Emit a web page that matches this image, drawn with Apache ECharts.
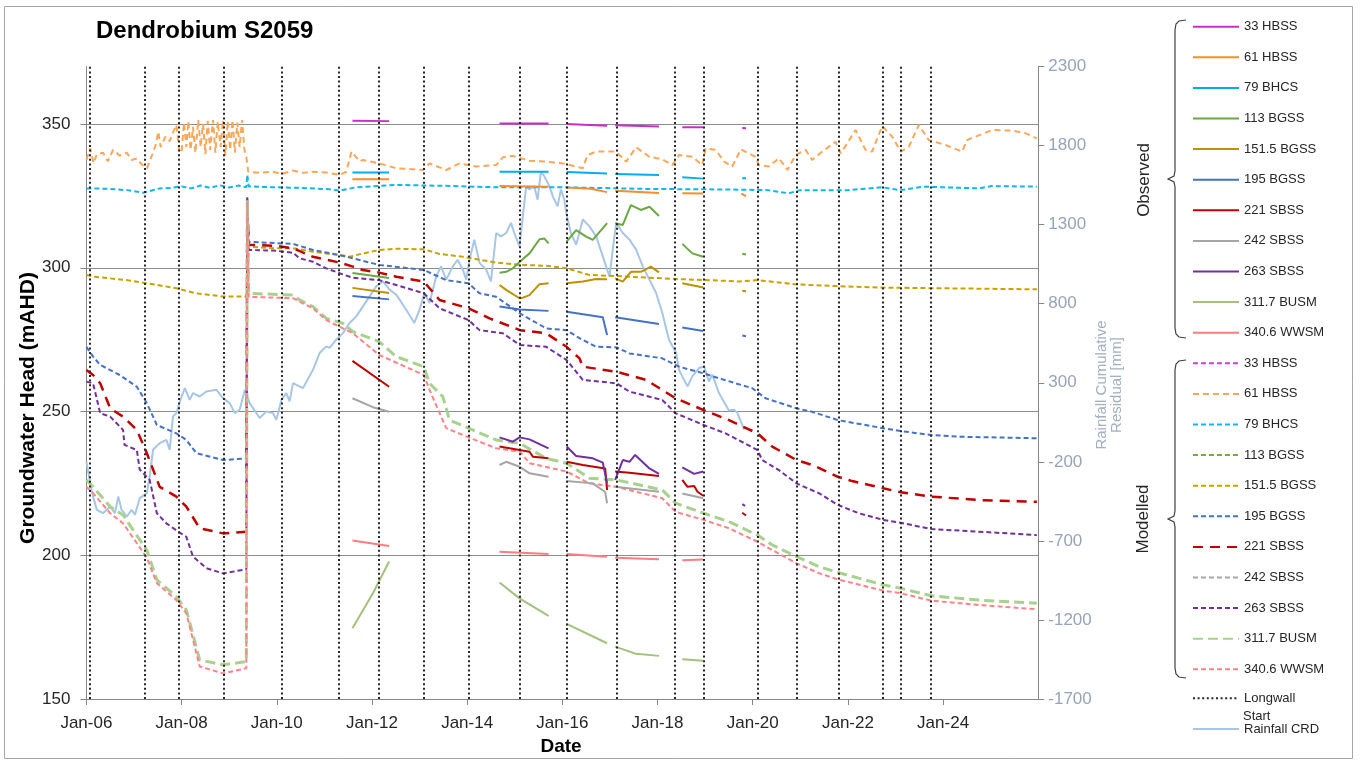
<!DOCTYPE html>
<html>
<head>
<meta charset="utf-8">
<title>Dendrobium S2059</title>
<script src="https://cdn.jsdelivr.net/npm/echarts@6.0.0/dist/echarts.min.js"></script>
<style>
  html, body { margin: 0; padding: 0; background: #ffffff; }
  #chart { width: 1362px; height: 760px; }
</style>
</head>
<body>
<div id="chart"></div>
<script>
// ---- Data (x = decimal year, y = groundwater head in mAHD) ----

// Longwall start dates (decimal year)
const longwallStarts = [2006.08, 2007.23, 2007.94, 2008.89, 2010.10, 2011.31, 2012.15, 2013.09,
  2014.03, 2015.11, 2016.09, 2017.14, 2018.37, 2018.97, 2020.10, 2020.92, 2021.80, 2022.74,
  2023.11, 2023.75];

// Observed heads, one array of segments per bore (gaps between monitoring periods)
const obs33HBSS = [
  [[2011.59, 351.1], [2012.36, 351.0]],
  [[2014.68, 350.2], [2015.71, 350.2]],
  [[2016.09, 350.0], [2016.94, 349.4]],
  [[2017.11, 349.6], [2018.03, 349.1]],
  [[2018.52, 348.9], [2018.96, 348.9]],
  [[2019.78, 348.6], [2019.86, 348.5]]
];
const obs61HBSS = [
  [[2011.59, 330.8], [2012.36, 330.8]],
  [[2014.68, 328.4], [2015.71, 328.2]],
  [[2016.09, 327.9], [2016.60, 327.5], [2016.94, 326.3]],
  [[2017.11, 326.8], [2018.03, 326.0]],
  [[2018.52, 325.9], [2018.96, 325.8]],
  [[2019.76, 325.8], [2019.86, 324.9]]
];
const obs79BHCS = [
  [[2011.59, 333.1], [2012.36, 333.1]],
  [[2014.68, 333.4], [2015.71, 333.4]],
  [[2016.09, 333.3], [2016.94, 332.8]],
  [[2017.11, 332.6], [2018.03, 332.3]],
  [[2018.52, 331.5], [2018.96, 331.0]],
  [[2019.78, 331.1], [2019.86, 331.1]]
];
const obs113BGSS = [
  [[2011.59, 298.2], [2012.36, 296.4]],
  [[2014.68, 298.3], [2014.82, 298.6], [2014.96, 299.8], [2015.10, 302.0], [2015.31, 305.0],
   [2015.52, 309.9], [2015.62, 310.2], [2015.71, 308.5]],
  [[2016.09, 309.1], [2016.29, 313.1], [2016.50, 310.8], [2016.64, 309.7], [2016.94, 315.5]],
  [[2017.11, 315.5], [2017.27, 314.9], [2017.44, 321.8], [2017.65, 320.1], [2017.83, 321.2],
   [2018.03, 318.0]],
  [[2018.52, 308.3], [2018.73, 305.0], [2018.96, 303.8]],
  [[2019.78, 304.9], [2019.86, 304.6]]
];
const obs151BGSS = [
  [[2011.59, 293.0], [2012.36, 291.2]],
  [[2014.68, 294.0], [2014.82, 292.3], [2015.10, 289.4], [2015.17, 289.6], [2015.31, 290.5],
   [2015.52, 294.3], [2015.71, 294.6]],
  [[2016.09, 294.6], [2016.43, 295.2], [2016.71, 296.1], [2016.94, 296.0]],
  [[2017.11, 296.3], [2017.27, 295.2], [2017.44, 298.6], [2017.65, 298.6], [2017.86, 300.4],
   [2018.03, 298.4]],
  [[2018.52, 294.6], [2018.96, 293.1]],
  [[2019.78, 292.0], [2019.86, 291.8]]
];
const obs195BGSS = [
  [[2011.59, 290.2], [2012.36, 289.0]],
  [[2014.68, 286.5], [2015.10, 285.5], [2015.71, 285.0]],
  [[2016.09, 284.7], [2016.85, 282.8], [2016.94, 276.6]],
  [[2017.11, 282.8], [2018.03, 280.4]],
  [[2018.52, 279.2], [2018.96, 278.0]],
  [[2019.78, 276.4], [2019.86, 276.2]]
];
const obs221SBSS = [
  [[2011.59, 267.6], [2012.36, 258.6]],
  [[2014.68, 237.8], [2015.10, 236.6], [2015.31, 236.0], [2015.38, 234.3], [2015.71, 233.7]],
  [[2016.09, 232.5], [2016.43, 231.4], [2016.90, 230.2], [2016.94, 222.7]],
  [[2017.11, 229.1], [2017.41, 228.7], [2018.03, 227.6]],
  [[2018.52, 226.2], [2018.63, 223.8], [2018.77, 224.1], [2018.84, 222.1], [2018.96, 220.7]],
  [[2019.78, 214.8], [2019.86, 213.8]]
];
const obs242SBSS = [
  [[2011.59, 254.6], [2012.02, 251.5], [2012.36, 249.9]],
  [[2014.68, 231.4], [2014.82, 232.5], [2015.10, 230.8], [2015.31, 228.5], [2015.71, 227.3]],
  [[2016.09, 225.8], [2016.64, 225.0], [2016.90, 222.0], [2016.94, 218.1]],
  [[2017.11, 223.8], [2018.03, 222.1]],
  [[2018.52, 221.5], [2018.96, 219.8]]
];
const obs263SBSS = [
  [[2014.68, 241.0], [2014.96, 239.5], [2015.10, 241.0], [2015.31, 240.3], [2015.71, 237.2]],
  [[2016.09, 237.8], [2016.29, 234.5], [2016.64, 233.7], [2016.85, 232.2], [2016.94, 225.0]],
  [[2017.11, 226.2], [2017.27, 233.1], [2017.41, 232.5], [2017.53, 234.9], [2017.83, 230.2],
   [2018.03, 228.3]],
  [[2018.52, 230.6], [2018.77, 228.3], [2018.96, 229.1]],
  [[2019.78, 217.8], [2019.84, 217.2]]
];
const obs311BUSM = [
  [[2011.59, 174.6], [2012.02, 186.8], [2012.36, 197.8]],
  [[2014.68, 190.5], [2015.10, 185.0], [2015.71, 178.9]],
  [[2016.09, 176.1], [2016.94, 169.4]],
  [[2017.11, 168.2], [2017.55, 165.7], [2018.03, 165.0]],
  [[2018.52, 163.8], [2018.96, 163.3]]
];
const obs340WWSM = [
  [[2011.59, 205.1], [2012.36, 203.2]],
  [[2014.68, 201.2], [2015.71, 200.4]],
  [[2016.09, 200.4], [2016.94, 199.5]],
  [[2017.11, 199.1], [2018.03, 198.6]],
  [[2018.52, 198.3], [2018.96, 198.5]]
];

// Modelled heads
const mod33HBSS = [];
const mod61HBSS = [
  [2006.00, 337.5], [2006.08, 341.5], [2006.15, 336.4], [2006.22, 339.5], [2006.35, 340.0],
  [2006.45, 337.0], [2006.56, 341.0], [2006.70, 339.0], [2006.85, 340.0], [2006.95, 337.5],
  [2007.06, 338.0], [2007.16, 336.0], [2007.27, 334.6], [2007.35, 338.0], [2007.40, 340.0],
  [2007.46, 343.0], [2007.51, 347.3], [2007.56, 342.0], [2007.66, 345.6], [2007.75, 344.0],
  [2007.82, 347.0], [2007.89, 349.7], [2007.95, 341.0], [2008.00, 340.0], [2008.05, 350.5],
  [2008.10, 342.0], [2008.14, 351.0], [2008.19, 341.0], [2008.24, 349.0], [2008.29, 340.0],
  [2008.35, 351.4], [2008.40, 342.0], [2008.45, 350.0], [2008.50, 339.5], [2008.55, 351.0],
  [2008.60, 341.0], [2008.66, 351.4], [2008.71, 340.0], [2008.76, 350.8], [2008.82, 342.0],
  [2008.87, 351.4], [2008.92, 339.0], [2008.97, 351.0], [2009.02, 341.0], [2009.07, 351.4],
  [2009.12, 340.0], [2009.17, 350.5], [2009.22, 342.0], [2009.27, 351.4], [2009.32, 341.0],
  [2009.36, 338.6], [2009.40, 333.4], [2009.64, 333.0], [2009.92, 333.4], [2010.10, 332.6],
  [2010.34, 333.8], [2010.55, 333.0], [2010.76, 333.4], [2011.04, 333.1], [2011.32, 332.3],
  [2011.46, 333.4], [2011.57, 340.4], [2011.74, 337.0], [2011.81, 337.5], [2012.15, 336.3],
  [2012.51, 334.6], [2013.07, 334.0], [2013.21, 336.3], [2013.56, 334.0], [2013.84, 336.3],
  [2014.19, 335.2], [2014.61, 335.7], [2014.75, 338.4], [2014.96, 338.9], [2015.31, 337.2],
  [2015.66, 336.9], [2016.01, 336.3], [2016.43, 334.6], [2016.53, 339.2], [2016.71, 340.4],
  [2017.13, 340.4], [2017.34, 336.9], [2017.55, 341.9], [2017.83, 338.6], [2018.10, 337.7],
  [2018.31, 335.7], [2018.45, 339.2], [2018.73, 338.6], [2018.94, 335.7], [2019.01, 341.5],
  [2019.22, 341.0], [2019.40, 336.9], [2019.57, 335.2], [2019.75, 341.2], [2020.06, 338.6],
  [2020.13, 335.7], [2020.34, 335.2], [2020.55, 338.1], [2020.73, 334.0], [2020.90, 339.2],
  [2021.11, 341.0], [2021.25, 337.5], [2021.46, 340.4], [2021.74, 343.8], [2021.85, 339.8],
  [2022.16, 347.9], [2022.37, 341.0], [2022.51, 340.4], [2022.72, 349.3], [2022.93, 345.6],
  [2023.11, 340.4], [2023.28, 342.1], [2023.49, 349.7], [2023.70, 344.4], [2024.05, 342.7],
  [2024.40, 340.4], [2024.50, 344.4], [2025.03, 347.9], [2025.45, 347.7], [2025.73, 346.8],
  [2025.97, 345.0]
];
const mod79BHCS = [
  [2006.00, 327.6], [2006.40, 327.5], [2006.85, 327.0], [2007.19, 326.1], [2007.54, 327.6],
  [2007.80, 327.8], [2008.00, 328.3], [2008.20, 327.6], [2008.40, 328.6], [2008.60, 327.8],
  [2008.80, 328.7], [2009.00, 327.9], [2009.20, 328.6], [2009.36, 328.0], [2009.38, 332.3],
  [2009.41, 328.3], [2009.90, 328.0], [2010.50, 327.8], [2011.11, 327.3], [2011.32, 326.8],
  [2011.67, 328.0], [2012.51, 328.8], [2013.50, 328.5], [2014.60, 328.0], [2016.00, 328.0],
  [2017.83, 327.4], [2018.94, 327.3], [2019.50, 327.2], [2020.30, 327.0], [2020.76, 325.9],
  [2021.00, 327.0], [2022.00, 327.0], [2022.72, 328.0], [2023.10, 327.0], [2023.60, 328.2],
  [2024.75, 327.6], [2025.03, 328.4], [2025.97, 328.2]
];
const mod113BGSS = [];
const mod151BGSS = [
  [2006.00, 297.5], [2006.15, 296.9], [2006.85, 295.7], [2007.19, 294.8], [2007.89, 292.9],
  [2008.31, 291.1], [2008.87, 290.0], [2009.36, 290.0], [2009.41, 307.3], [2009.92, 306.8],
  [2010.34, 306.8], [2010.76, 305.6], [2011.11, 304.8], [2011.32, 304.5], [2011.53, 303.8],
  [2011.81, 305.0], [2012.17, 306.2], [2012.51, 306.6], [2013.09, 306.4], [2013.42, 304.8],
  [2013.91, 303.8], [2014.61, 301.8], [2015.11, 301.0], [2015.66, 300.7], [2016.09, 299.8],
  [2016.57, 297.5], [2017.14, 297.1], [2018.38, 296.1], [2019.50, 295.4], [2019.71, 295.2],
  [2020.10, 295.7], [2020.92, 294.2], [2021.80, 293.6], [2022.74, 293.1], [2023.75, 292.9],
  [2025.97, 292.5]
];
const mod195BGSS = [
  [2006.00, 272.5], [2006.14, 269.1], [2006.29, 266.2], [2006.70, 262.7], [2007.06, 258.6],
  [2007.27, 252.9], [2007.48, 245.3], [2007.89, 242.4], [2008.10, 240.1], [2008.31, 235.5],
  [2008.87, 233.1], [2009.36, 233.7], [2009.38, 324.5], [2009.41, 309.0], [2010.34, 308.3],
  [2010.76, 306.2], [2011.32, 304.4], [2011.74, 302.7], [2012.15, 301.0], [2013.09, 299.2],
  [2013.56, 295.7], [2014.03, 294.6], [2014.26, 291.1], [2014.61, 289.9], [2015.11, 284.1],
  [2015.66, 278.9], [2016.09, 278.3], [2016.36, 275.5], [2016.71, 272.5], [2017.14, 272.3],
  [2017.41, 270.2], [2018.10, 268.5], [2018.45, 265.6], [2018.96, 263.3], [2019.36, 261.2],
  [2019.99, 258.1], [2020.27, 254.6], [2020.92, 251.1], [2021.25, 249.9], [2021.79, 247.0],
  [2022.74, 244.2], [2023.11, 243.2], [2023.75, 241.8], [2024.40, 241.2], [2025.97, 240.7]
];
const mod221SBSS = [
  [2006.00, 264.4], [2006.14, 262.7], [2006.29, 259.8], [2006.50, 251.1], [2006.77, 248.2],
  [2007.06, 243.6], [2007.27, 235.5], [2007.54, 223.8], [2007.89, 220.4], [2008.10, 216.9],
  [2008.38, 209.4], [2008.87, 207.6], [2009.36, 208.2], [2009.38, 322.0], [2009.41, 308.0],
  [2009.99, 307.6], [2010.34, 306.8], [2010.76, 303.8], [2011.32, 301.8], [2011.60, 300.4],
  [2011.81, 299.2], [2012.15, 298.3], [2012.51, 296.9], [2013.09, 295.2], [2013.42, 288.8],
  [2014.03, 285.9], [2014.47, 282.4], [2015.11, 278.3], [2015.66, 277.2], [2016.09, 272.5],
  [2016.36, 268.5], [2016.43, 265.6], [2017.14, 263.8], [2017.76, 261.0], [2018.38, 254.6],
  [2018.97, 250.5], [2019.50, 247.0], [2020.10, 242.4], [2020.41, 237.8], [2020.92, 233.1],
  [2021.25, 231.4], [2021.79, 227.3], [2022.09, 225.8], [2022.74, 223.3], [2023.11, 221.9],
  [2023.75, 220.4], [2024.75, 219.2], [2025.97, 218.6]
];
const mod242SBSS = [];
const mod263SBSS = [
  [2006.00, 260.4], [2006.14, 259.8], [2006.29, 249.4], [2006.50, 248.2], [2006.77, 243.6],
  [2006.80, 238.4], [2007.06, 236.6], [2007.12, 229.8], [2007.33, 226.2], [2007.48, 214.6],
  [2007.68, 211.1], [2007.93, 208.2], [2008.10, 206.4], [2008.24, 199.5], [2008.52, 195.5],
  [2008.87, 193.7], [2009.36, 195.1], [2009.38, 324.5], [2009.41, 306.2], [2009.99, 305.9],
  [2010.34, 305.2], [2010.48, 303.3], [2010.76, 302.1], [2011.04, 299.8], [2011.32, 298.1],
  [2011.60, 296.5], [2012.15, 295.7], [2012.51, 294.0], [2013.09, 291.1], [2013.42, 285.9],
  [2014.03, 281.8], [2014.26, 278.3], [2014.75, 277.2], [2015.11, 273.1], [2015.66, 272.5],
  [2016.09, 267.9], [2016.43, 261.0], [2017.14, 259.8], [2017.41, 256.9], [2018.10, 254.0],
  [2018.38, 249.4], [2018.97, 245.3], [2019.43, 242.4], [2020.10, 236.6], [2020.20, 233.1],
  [2020.55, 229.6], [2020.92, 225.0], [2021.40, 221.5], [2021.79, 217.5], [2022.23, 214.6],
  [2022.74, 212.3], [2023.11, 211.3], [2023.75, 209.1], [2024.75, 208.2], [2025.97, 207.0]
];
const mod311BUSM = [
  [2006.00, 226.2], [2006.14, 223.8], [2006.50, 216.9], [2006.77, 214.0], [2006.98, 208.8],
  [2007.27, 201.8], [2007.48, 191.4], [2007.89, 185.6], [2008.10, 181.0], [2008.38, 163.6],
  [2008.87, 161.9], [2009.36, 163.0], [2009.38, 323.5], [2009.41, 291.1], [2010.34, 290.5],
  [2010.48, 288.8], [2010.76, 286.5], [2011.04, 282.4], [2011.39, 280.7], [2011.60, 277.8],
  [2012.15, 274.3], [2012.51, 269.1], [2013.09, 265.6], [2013.21, 259.8], [2013.49, 255.1],
  [2013.63, 247.0], [2014.03, 244.2], [2014.61, 240.1], [2015.11, 238.9], [2015.66, 233.7],
  [2016.09, 232.0], [2016.57, 226.8], [2017.14, 226.2], [2018.10, 222.7], [2018.38, 218.1],
  [2018.97, 214.6], [2019.50, 211.7], [2020.10, 207.0], [2020.41, 203.6], [2020.92, 199.5],
  [2021.40, 196.0], [2021.79, 194.0], [2022.74, 189.7], [2023.11, 188.5], [2023.75, 185.9],
  [2024.75, 184.4], [2025.97, 183.3]
];
const mod340WWSM = [
  [2006.00, 223.8], [2006.14, 221.6], [2006.50, 214.6], [2006.77, 211.1], [2007.06, 204.2],
  [2007.27, 199.1], [2007.48, 190.3], [2007.89, 184.4], [2008.10, 179.8], [2008.38, 161.3],
  [2008.87, 158.9], [2009.36, 160.7], [2009.38, 323.0], [2009.41, 289.9], [2010.34, 289.4],
  [2010.76, 285.9], [2011.04, 281.8], [2011.60, 277.2], [2012.15, 269.7], [2013.09, 262.7],
  [2013.21, 257.5], [2013.56, 244.2], [2014.03, 241.0], [2014.61, 237.2], [2015.11, 236.0],
  [2015.31, 232.0], [2016.09, 229.1], [2016.57, 225.0], [2017.14, 223.8], [2018.10, 219.8],
  [2018.38, 215.1], [2018.97, 212.3], [2019.50, 209.4], [2020.10, 204.7], [2020.41, 201.8],
  [2020.92, 197.2], [2021.40, 193.7], [2021.79, 191.6], [2022.74, 187.7], [2023.11, 186.8],
  [2023.75, 184.2], [2024.75, 182.7], [2025.97, 181.2]
];

// Rainfall cumulative residual (mm), right axis
const rainfallCRD = [
  [2006.00, -198], [2006.08, -335], [2006.14, -420], [2006.22, -504], [2006.35, -525],
  [2006.50, -483], [2006.60, -525], [2006.67, -420], [2006.74, -504], [2006.85, -546],
  [2006.95, -504], [2007.02, -535], [2007.12, -430], [2007.27, -398], [2007.33, -293],
  [2007.40, -124], [2007.54, -82], [2007.68, -61], [2007.75, -124], [2007.82, 87],
  [2007.89, 108], [2008.00, 213], [2008.07, 266], [2008.17, 192], [2008.24, 235],
  [2008.38, 213], [2008.52, 245], [2008.73, 256], [2008.87, 203], [2009.01, 171],
  [2009.12, 108], [2009.22, 129], [2009.33, 256], [2009.43, 171], [2009.64, 77],
  [2009.78, 118], [2009.92, 108], [2009.99, 66], [2010.10, 192], [2010.20, 235],
  [2010.27, 182], [2010.34, 298], [2010.55, 266], [2010.76, 382], [2010.90, 488],
  [2011.04, 530], [2011.11, 520], [2011.25, 572], [2011.39, 614], [2011.53, 678],
  [2011.67, 720], [2011.81, 783], [2011.95, 846], [2012.09, 910], [2012.23, 941],
  [2012.37, 889], [2012.51, 857], [2012.72, 762], [2012.89, 678], [2013.00, 762],
  [2013.10, 868], [2013.21, 804], [2013.35, 973], [2013.45, 1036], [2013.56, 952],
  [2013.70, 1036], [2013.80, 1078], [2013.91, 1015], [2013.98, 952], [2014.05, 1078],
  [2014.15, 1205], [2014.26, 1058], [2014.40, 1015], [2014.50, 941], [2014.61, 1247],
  [2014.71, 1226], [2014.82, 1247], [2014.92, 1311], [2014.99, 1247], [2015.10, 1163],
  [2015.17, 1353], [2015.24, 1542], [2015.31, 1522], [2015.41, 1542], [2015.48, 1458],
  [2015.55, 1637], [2015.62, 1606], [2015.73, 1542], [2015.80, 1479], [2015.90, 1416],
  [2015.97, 1522], [2016.04, 1458], [2016.09, 1363], [2016.18, 1247], [2016.29, 1173],
  [2016.43, 1332], [2016.57, 1289], [2016.71, 1226], [2016.85, 1099], [2016.99, 973],
  [2017.13, 1311], [2017.27, 1247], [2017.41, 1205], [2017.55, 1142], [2017.69, 1036],
  [2017.83, 952], [2017.97, 868], [2018.10, 741], [2018.24, 572], [2018.39, 488],
  [2018.45, 382], [2018.52, 340], [2018.63, 277], [2018.73, 340], [2018.87, 393],
  [2018.98, 403], [2019.08, 308], [2019.15, 351], [2019.29, 235], [2019.50, 125],
  [2019.61, 129], [2019.68, 108], [2019.82, 3]
];

const boreNames = ['33 HBSS', '61 HBSS', '79 BHCS', '113 BGSS', '151.5 BGSS', '195 BGSS',
  '221 SBSS', '242 SBSS', '263 SBSS', '311.7 BUSM', '340.6 WWSM'];
const boreColours = ['#cc2ccc', '#f68d2e', '#00aeef', '#6aa842', '#bf9000', '#4472c4',
  '#c00000', '#a5a5a5', '#7030a0', '#a3c17c', '#ff7c80'];
const modelColours = ['#d23fd2', '#fba75a', '#14b4f0', '#72ad47', '#c9a200', '#4472c4',
  '#c00000', '#a5a5a5', '#7030a0', '#a9d18e', '#ff8389'];

const observedSets = [obs33HBSS, obs61HBSS, obs79BHCS, obs113BGSS, obs151BGSS, obs195BGSS,
  obs221SBSS, obs242SBSS, obs263SBSS, obs311BUSM, obs340WWSM];
const modelledSets = [mod33HBSS, mod61HBSS, mod79BHCS, mod113BGSS, mod151BGSS, mod195BGSS,
  mod221SBSS, mod242SBSS, mod263SBSS, mod311BUSM, mod340WWSM];

// ---- Chart build ----
const FONT = '"Liberation Sans", Arial, sans-serif';
const MOD_SUFFIX = ' modelled';

// join monitoring periods with an empty point so the line breaks between them
function joinSegments(segs) {
  const out = [];
  segs.forEach((seg, i) => {
    if (i > 0) {
      const prev = segs[i - 1];
      out.push([(prev[prev.length - 1][0] + seg[0][0]) / 2, null]);
    }
    seg.forEach(p => out.push(p));
  });
  return out;
}

function dashFor(i) {
  if (boreNames[i] === '221 SBSS') return { type: [10, 7], width: 2.5 };
  if (boreNames[i] === '311.7 BUSM') return { type: [10, 5], width: 3 };
  if (boreNames[i] === '61 HBSS') return { type: [6, 4], width: 2 };
  return { type: [5, 3], width: 2 };
}

const series = [];

series.push({
  name: 'Rainfall CRD',
  type: 'line',
  yAxisIndex: 1,
  data: rainfallCRD,
  symbol: 'none',
  color: '#a7c6e6',
  lineStyle: { width: 2, color: '#a7c6e6' },
  z: 1
});

modelledSets.forEach((d, i) => {
  const ds = dashFor(i);
  series.push({
    name: boreNames[i] + MOD_SUFFIX,
    type: 'line',
    data: d,
    symbol: 'none',
    color: modelColours[i],
    lineStyle: { width: ds.width, type: ds.type, color: modelColours[i] },
    z: 2
  });
});

observedSets.forEach((segs, i) => {
  series.push({
    name: boreNames[i],
    type: 'line',
    data: joinSegments(segs),
    symbol: 'none',
    connectNulls: false,
    color: boreColours[i],
    lineStyle: { width: 2, color: boreColours[i] },
    z: 3
  });
});

series.push({
  name: 'Longwall Start',
  type: 'line',
  data: [],
  symbol: 'none',
  color: '#262626',
  lineStyle: { width: 2, type: [2, 2.6], color: '#262626' },
  markLine: {
    silent: true,
    symbol: ['none', 'none'],
    label: { show: false },
    lineStyle: { width: 2, type: [2, 2.6], color: '#262626' },
    data: longwallStarts.map(v => ({ xAxis: v }))
  },
  z: 4
});

const legendBase = {
  orient: 'vertical',
  left: 1192,
  itemWidth: 46,
  itemHeight: 16,
  itemGap: 14.6,
  padding: 0,
  selectedMode: false,
  itemStyle: { opacity: 0 },
  textStyle: { fontFamily: FONT, fontSize: 13, color: '#262626', lineHeight: 16 }
};

function brace(x, y0, y1) {
  const ym = (y0 + y1) / 2;
  return {
    type: 'polyline',
    silent: true,
    shape: {
      points: [[x + 11, y0], [x + 4, y0 + 1], [x + 1, y0 + 4], [x, y0 + 10], [x, ym - 8],
        [x - 1, ym - 3], [x - 7, ym], [x - 1, ym + 3], [x, ym + 8], [x, y1 - 10],
        [x + 1, y1 - 4], [x + 4, y1 - 1], [x + 11, y1]]
    },
    style: { stroke: '#404040', lineWidth: 1.2, fill: null }
  };
}

function vText(text, x, y, font, colour) {
  return {
    type: 'text',
    x: x,
    y: y,
    rotation: Math.PI / 2,
    silent: true,
    style: { text: text, font: font, fill: colour, textAlign: 'center', textVerticalAlign: 'middle' }
  };
}

const option = {
  animation: false,
  backgroundColor: '#ffffff',
  title: {
    text: 'Dendrobium S2059',
    left: 96,
    top: 19,
    padding: 0,
    textStyle: { fontFamily: FONT, fontSize: 24, fontWeight: 'bold', color: '#000000', lineHeight: 24 }
  },
  grid: { left: 86.4, right: 323.7, top: 66.5, bottom: 61 },
  xAxis: {
    type: 'value',
    min: 2006,
    max: 2026,
    interval: 2,
    axisLine: { onZero: false, lineStyle: { color: '#868686', width: 1 } },
    axisTick: { show: true, length: 6, lineStyle: { color: '#868686' } },
    axisLabel: {
      fontFamily: FONT, fontSize: 17, color: '#262626', margin: 16, showMaxLabel: false,
      formatter: v => 'Jan-' + String(Math.round(v)).slice(2)
    },
    splitLine: { show: false }
  },
  yAxis: [
    {
      type: 'value',
      min: 150,
      max: 370,
      interval: 50,
      axisLine: { show: true, onZero: false, lineStyle: { color: '#868686' } },
      axisTick: { show: true, length: 6, lineStyle: { color: '#868686' } },
      axisLabel: { fontFamily: FONT, fontSize: 17, color: '#262626', margin: 16, showMaxLabel: false },
      splitLine: { show: true, showMinLine: false, showMaxLine: false, lineStyle: { color: '#8c8c8c', width: 1 } }
    },
    {
      type: 'value',
      position: 'right',
      min: -1700,
      max: 2300,
      interval: 500,
      axisLine: { show: true, onZero: false, lineStyle: { color: '#868686' } },
      axisTick: { show: true, length: 6, lineStyle: { color: '#868686' } },
      axisLabel: { fontFamily: FONT, fontSize: 17, color: '#97a3b7', margin: 10, formatter: v => String(v) },
      splitLine: { show: false }
    }
  ],
  legend: [
    Object.assign({}, legendBase, { top: 18.7, data: boreNames.slice() }),
    Object.assign({}, legendBase, {
      top: 355.3,
      data: boreNames.map(n => n + MOD_SUFFIX),
      formatter: n => n.replace(MOD_SUFFIX, '')
    }),
    Object.assign({}, legendBase, {
      top: 690.3,
      data: ['Longwall Start'],
      formatter: () => 'Longwall'
    }),
    Object.assign({}, legendBase, { top: 721, data: ['Rainfall CRD'] })
  ],
  graphic: [
    {
      type: 'rect', silent: true, z: -10,
      shape: { x: 4.5, y: 6.5, width: 1348, height: 752 },
      style: { fill: null, stroke: '#a6a6a6', lineWidth: 1 }
    },
    brace(1175, 20, 338),
    brace(1175, 360, 678),
    vText('Observed', 1144, 180, '17px ' + FONT, '#262626'),
    vText('Modelled', 1143, 519, '17px ' + FONT, '#262626'),
    vText('Groundwater Head (mAHD)', 28, 408, 'bold 21px ' + FONT, '#000000'),
    vText('Rainfall Cumulative\nResidual [mm]', 1109, 385, '15px ' + FONT, '#a3afc2'),
    {
      // second line of the longwall legend entry
      type: 'text', x: 1243, y: 716, silent: true,
      style: { text: 'Start', font: '13px ' + FONT, fill: '#262626', textAlign: 'left', textVerticalAlign: 'middle' }
    },
    {
      type: 'text', x: 561, y: 747, silent: true,
      style: { text: 'Date', font: 'bold 19px ' + FONT, fill: '#000000', textAlign: 'center', textVerticalAlign: 'middle' }
    }
  ],
  series: series
};

const chart = echarts.init(document.getElementById('chart'), null, { renderer: 'canvas' });
chart.setOption(option);
</script>
</body>
</html>
